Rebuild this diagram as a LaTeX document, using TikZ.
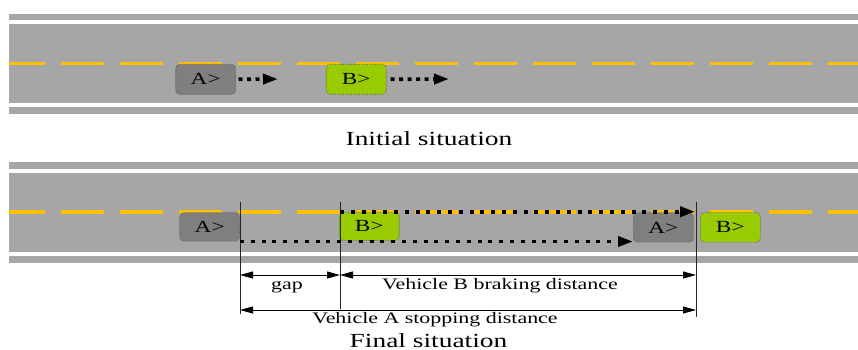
\documentclass[tikz,border=0pt]{standalone}
\usepackage{fontspec}
\setmainfont{Liberation Serif}[FakeStretch=1.37]
\usetikzlibrary{arrows.meta}
\definecolor{roadgray}{HTML}{A6A6A6}
\definecolor{lanegold}{HTML}{FFC000}
\definecolor{cargray}{HTML}{7F7F7F}
\definecolor{cargreen}{HTML}{99CC00}
\definecolor{edgegray}{HTML}{4D4D4D}
\begin{document}
\begin{tikzpicture}[x=1pt,y=-1pt,
  road/.style={fill=roadgray},
  kerb/.style={fill=white},
  lane/.style={draw=lanegold, line width=3.3pt, dash pattern=on 43pt off 16pt, dash phase=7pt},
  car/.style={draw=edgegray, densely dotted, line width=0.6pt, rounded corners=4pt,
    minimum width=60pt, inner sep=0pt, font=\fontsize{17}{17}\selectfont},
  cara/.style={car, fill=cargray},
  carb/.style={car, fill=cargreen},
  motion/.style={line width=3.6pt, dash pattern=on 4pt off 4.5pt,
    -{Triangle[length=15pt,width=10pt]}},
  longmotion/.style={line width=3.6pt, dash pattern=on 4pt off 6.8pt,
    -{Triangle[length=15pt,width=10pt]}},
  marker/.style={draw=black!85, line width=0.9pt},
  dim/.style={line width=0.8pt,
    {Triangle[length=13pt,width=7pt]}-{Triangle[length=13pt,width=7pt]}},
  dimtext/.style={font=\fontsize{16}{16}\selectfont, anchor=base, inner sep=0pt},
  caption/.style={font=\fontsize{20}{20}\selectfont, anchor=base, inner sep=0pt}
]
\useasboundingbox (0,0) rectangle (858,350);

% --- upper road: initial situation
\fill[road] (9,14) rectangle (858,114);
\fill[kerb] (9,20) rectangle (858,24.3);
\fill[kerb] (9,103.3) rectangle (858,107.5);
\draw[lane] (9,63.7) -- (858,63.7);

\node[cara, minimum height=30pt] (a1) at (205.7,79.3) {A>};
\node[carb, minimum height=30pt] (b1) at (356.2,79.3) {B>};
\coordinate (a1go) at (278,79);
\coordinate (b1go) at (449,79);
\draw[motion] ([xshift=2.5pt]a1.east) -- (a1go);
\draw[motion] ([xshift=4pt]b1.east) -- (b1go);

\node[caption] (initial) at (429,145) {Initial situation};

% --- lower road: final situation
\fill[road] (9,162.3) rectangle (858,262.7);
\fill[kerb] (9,169) rectangle (858,172.7);
\fill[kerb] (9,251.7) rectangle (858,256);
\draw[lane] (9,212) -- (858,212);

\node[cara, minimum height=28.5pt] (a2) at (209.7,226.9) {A>};
\node[carb, minimum height=28pt]   (b2) at (369.2,226.4) {B>};
\node[cara, minimum height=29.5pt] (a3) at (663.3,227.4) {A>};
\node[carb, minimum height=29.5pt] (b3) at (730.3,227.4) {B>};

% reference lines
\coordinate (ga) at (240,201.7);
\coordinate (gb) at (340,201.7);
\coordinate (gc) at (696,201.7);
\coordinate (ga') at (240,314);
\coordinate (gb') at (340,309);
\coordinate (gc') at (696,316.5);
\draw[marker] (ga) -- (ga');
\draw[marker] (gb) -- (gb');
\draw[marker] (gc) -- (gc');

% travelled paths
\coordinate (bstart) at (340,211.7);
\coordinate (bstop) at (695,211.7);
\coordinate (astart) at (240,241.5);
\coordinate (astop) at (633,241.5);
\draw[longmotion] (bstart) -- (bstop);
\draw[longmotion] (astart) -- (astop);

% dimensions
\coordinate (d1a) at (240,275);
\coordinate (d1b) at (340,275);
\coordinate (d1c) at (696,275);
\coordinate (d2a) at (240,310);
\coordinate (d2c) at (696,310);
\draw[dim] (d1a) -- (d1b);
\draw[dim] (d1b) -- (d1c);
\draw[dim] (d2a) -- (d2c);

\node[dimtext] (gap) at (287,289) {gap};
\node[dimtext] (brake) at (500,289) {Vehicle B braking distance};
\node[dimtext] (stop) at (435,323) {Vehicle A stopping distance};
\node[caption] (final) at (428.5,347) {Final situation};
\end{tikzpicture}
\end{document}
